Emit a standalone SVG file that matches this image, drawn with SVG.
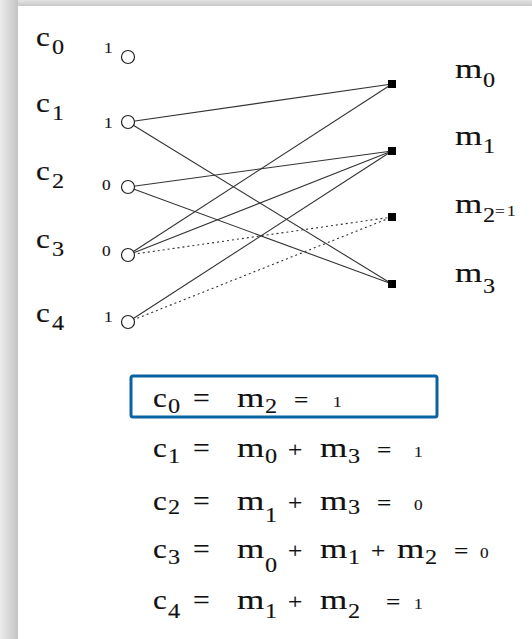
<svg xmlns="http://www.w3.org/2000/svg" width="532" height="639" viewBox="0 0 532 639">
<defs>
<linearGradient id="gl" x1="0" y1="0" x2="1" y2="0"><stop offset="0" stop-color="#ececec"/><stop offset="1" stop-color="#c4c4c4"/></linearGradient>
<linearGradient id="gt" x1="0" y1="0" x2="0" y2="1"><stop offset="0" stop-color="#e4e4e4"/><stop offset="1" stop-color="#c8c8c8"/></linearGradient>
<style>
text{font-family:"Liberation Serif","Times New Roman",serif;fill:#111;stroke:#111;stroke-width:0.15}
.b{font-size:27px}
.s{font-size:22px}
.n{font-size:15px;stroke-width:0.1}
.e{font-size:22px}
.ln{stroke:#333;stroke-width:1.1;fill:none}
.dt{stroke:#333;stroke-width:1.1;fill:none;stroke-dasharray:2 3}
.cn{fill:#fff;stroke:#222;stroke-width:1.2}
.sq{fill:#000}
</style>
</defs>
<rect width="532" height="639" fill="#fff"/>
<rect x="0" y="0" width="532" height="6" fill="url(#gt)"/>
<rect x="0" y="0" width="18" height="639" fill="url(#gl)"/>
<g id="connectors">
<line class="ln" x1="128" y1="122" x2="392" y2="84"/>
<line class="ln" x1="128" y1="122" x2="392" y2="284"/>
<line class="ln" x1="128" y1="187" x2="392" y2="151"/>
<line class="ln" x1="128" y1="187" x2="392" y2="284"/>
<line class="ln" x1="128" y1="255" x2="392" y2="84"/>
<line class="ln" x1="128" y1="255" x2="392" y2="151"/>
<line class="dt" x1="128" y1="255" x2="392" y2="217"/>
<line class="ln" x1="128" y1="322" x2="392" y2="151"/>
<line class="dt" x1="128" y1="322" x2="392" y2="217"/>
</g>
<g id="c0"><text class="b" transform="translate(36 46) scale(1.15 1)">c</text><text class="s" transform="translate(52 54) scale(1.1 1)">0</text><text class="n" transform="translate(104 53) scale(1.15 1)">1</text><circle class="cn" cx="128" cy="57" r="6.5"/></g>
<g id="c1"><text class="b" transform="translate(36 112) scale(1.15 1)">c</text><text class="s" transform="translate(52 120) scale(1.1 1)">1</text><text class="n" transform="translate(104 128) scale(1.15 1)">1</text><circle class="cn" cx="128" cy="122" r="6.5"/></g>
<g id="c2"><text class="b" transform="translate(36 180) scale(1.15 1)">c</text><text class="s" transform="translate(52 188) scale(1.1 1)">2</text><text class="n" transform="translate(102 190) scale(1.15 1)">0</text><circle class="cn" cx="128" cy="187" r="6.5"/></g>
<g id="c3"><text class="b" transform="translate(36 248) scale(1.15 1)">c</text><text class="s" transform="translate(52 256) scale(1.1 1)">3</text><text class="n" transform="translate(102 256) scale(1.15 1)">0</text><circle class="cn" cx="128" cy="255" r="6.5"/></g>
<g id="c4"><text class="b" transform="translate(36 322) scale(1.15 1)">c</text><text class="s" transform="translate(52 330) scale(1.1 1)">4</text><text class="n" transform="translate(104 322) scale(1.15 1)">1</text><circle class="cn" cx="128" cy="322" r="6.5"/></g>
<g id="m0"><rect class="sq" x="388" y="80" width="8" height="8"/><text class="b" transform="translate(455 78) scale(1.3 1)">m</text><text class="s" transform="translate(483 87) scale(1.1 1)">0</text></g>
<g id="m1"><rect class="sq" x="388" y="147" width="8" height="8"/><text class="b" transform="translate(455 145) scale(1.3 1)">m</text><text class="s" transform="translate(483 153) scale(1.1 1)">1</text></g>
<g id="m2"><rect class="sq" x="388" y="213" width="8" height="8"/><text class="b" transform="translate(455 213) scale(1.3 1)">m</text><text class="s" transform="translate(483 222) scale(1.1 1)">2</text><text class="n" transform="translate(495 216) scale(1.15 1)">=</text><text class="n" transform="translate(507 216) scale(1.15 1)">1</text></g>
<g id="m3"><rect class="sq" x="388" y="280" width="8" height="8"/><text class="b" transform="translate(455 282) scale(1.3 1)">m</text><text class="s" transform="translate(483 293) scale(1.1 1)">3</text></g>
<g id="eq0"><rect x="131" y="376" width="306" height="41" rx="2" fill="none" stroke="#0b62a3" stroke-width="3"/>
<text class="b" transform="translate(153 407) scale(1.15 1)">c</text><text class="s" transform="translate(168 413) scale(1.1 1)">0</text><text class="b" transform="translate(193 407) scale(1.1 1)">=</text>
<text class="b" transform="translate(237 407) scale(1.3 1)">m</text><text class="s" transform="translate(265 413) scale(1.1 1)">2</text><text class="e" transform="translate(294 407) scale(1.15 1)">=</text><text class="n" transform="translate(333 407) scale(1.15 1)">1</text></g>
<g id="eq1"><text class="b" transform="translate(153 457) scale(1.15 1)">c</text><text class="s" transform="translate(168 463) scale(1.1 1)">1</text><text class="b" transform="translate(193 457) scale(1.1 1)">=</text>
<text class="b" transform="translate(237 457) scale(1.3 1)">m</text><text class="s" transform="translate(265 463) scale(1.1 1)">0</text><text class="e" transform="translate(288 457) scale(1.15 1)">+</text>
<text class="b" transform="translate(320 457) scale(1.3 1)">m</text><text class="s" transform="translate(348 463) scale(1.1 1)">3</text><text class="e" transform="translate(377 457) scale(1.15 1)">=</text><text class="n" transform="translate(414 457) scale(1.15 1)">1</text></g>
<g id="eq2"><text class="b" transform="translate(153 510) scale(1.15 1)">c</text><text class="s" transform="translate(168 514) scale(1.1 1)">2</text><text class="b" transform="translate(193 510) scale(1.1 1)">=</text>
<text class="b" transform="translate(237 510) scale(1.3 1)">m</text><text class="s" transform="translate(265 522) scale(1.1 1)">1</text><text class="e" transform="translate(288 510) scale(1.15 1)">+</text>
<text class="b" transform="translate(320 510) scale(1.3 1)">m</text><text class="s" transform="translate(348 514) scale(1.1 1)">3</text><text class="e" transform="translate(377 510) scale(1.15 1)">=</text><text class="n" transform="translate(414 510) scale(1.15 1)">0</text></g>
<g id="eq3"><text class="b" transform="translate(153 558) scale(1.15 1)">c</text><text class="s" transform="translate(168 564) scale(1.1 1)">3</text><text class="b" transform="translate(193 558) scale(1.1 1)">=</text>
<text class="b" transform="translate(237 558) scale(1.3 1)">m</text><text class="s" transform="translate(265 572) scale(1.1 1)">0</text><text class="e" transform="translate(288 558) scale(1.15 1)">+</text>
<text class="b" transform="translate(320 558) scale(1.3 1)">m</text><text class="s" transform="translate(348 564) scale(1.1 1)">1</text><text class="e" transform="translate(371 558) scale(1.15 1)">+</text>
<text class="b" transform="translate(397 558) scale(1.3 1)">m</text><text class="s" transform="translate(425 564) scale(1.1 1)">2</text><text class="e" transform="translate(454 558) scale(1.15 1)">=</text><text class="n" transform="translate(480 558) scale(1.15 1)">0</text></g>
<g id="eq4"><text class="b" transform="translate(153 609) scale(1.15 1)">c</text><text class="s" transform="translate(168 618) scale(1.1 1)">4</text><text class="b" transform="translate(193 609) scale(1.1 1)">=</text>
<text class="b" transform="translate(237 609) scale(1.3 1)">m</text><text class="s" transform="translate(265 618) scale(1.1 1)">1</text><text class="e" transform="translate(288 609) scale(1.15 1)">+</text>
<text class="b" transform="translate(320 609) scale(1.3 1)">m</text><text class="s" transform="translate(348 618) scale(1.1 1)">2</text><text class="e" transform="translate(386 609) scale(1.15 1)">=</text><text class="n" transform="translate(414 609) scale(1.15 1)">1</text></g>
</svg>
